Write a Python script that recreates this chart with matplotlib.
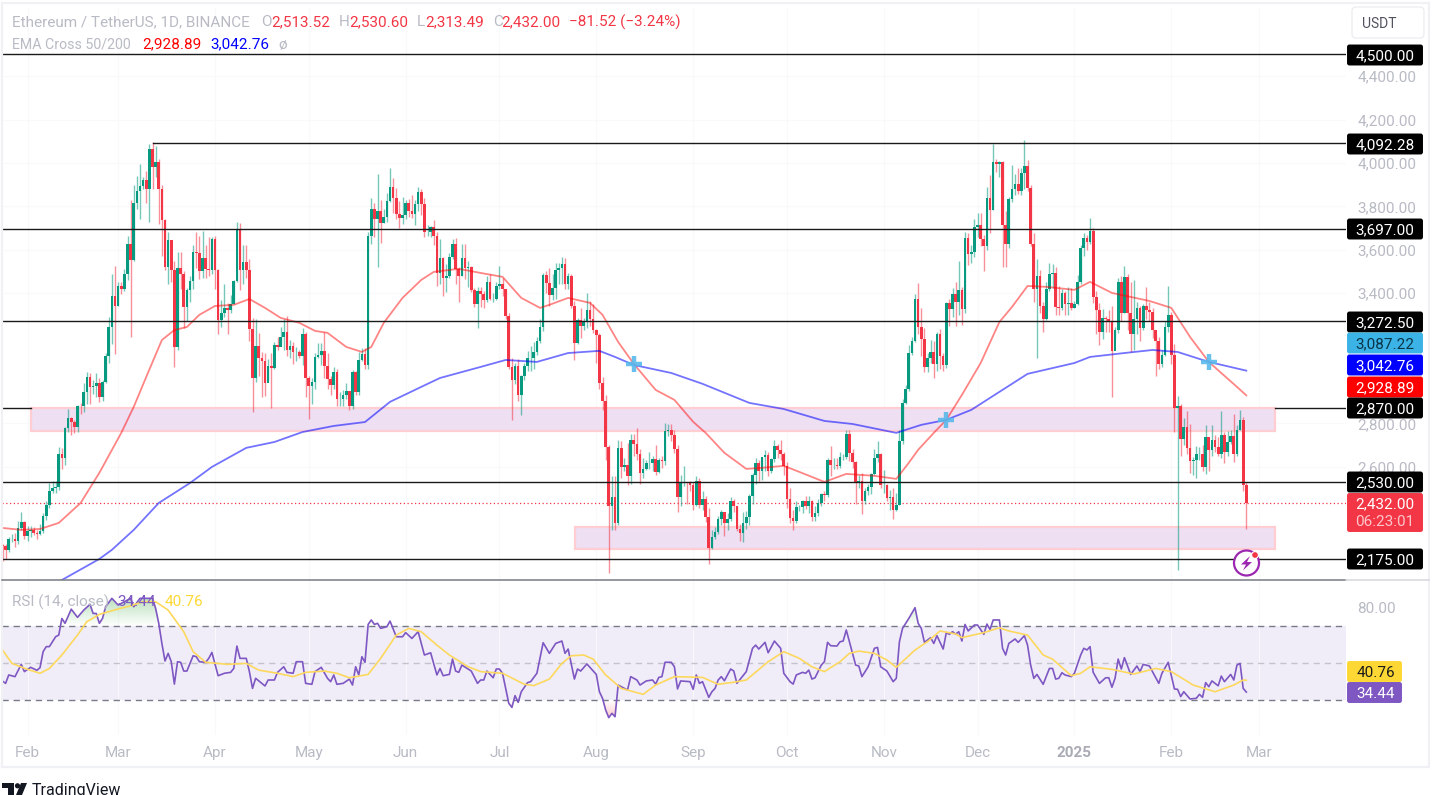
import matplotlib
matplotlib.use('Agg')
import matplotlib.pyplot as plt
from matplotlib.patches import Rectangle, FancyBboxPatch, Circle, Polygon
import numpy as np

plt.rcParams['font.family'] = ['Roboto', 'DejaVu Sans']

# ========================= candles, day 0 = 24 Jan 2024 =========================
first_open = 2240
closes = [
    # Jan
    2236, 2218, 2267, 2268, 2257, 2317, 2344, 2283,
    # Feb
    2304, 2309, 2296, 2290, 2302, 2373, 2422, 2487, 2501, 2508, 2660, 2641, 2777, 2825, 2805, 2784, 2881, 2879, 2946,
    3015, 2966, 2972, 2987, 2923, 2992, 3112, 3243, 3386, 3340,
    # Mar
    3435, 3420, 3490, 3625, 3553, 3816, 3869, 3893, 3920, 3880, 4066, 3980, 4006, 3882, 3738, 3520, 3645, 3505, 3150,
    3515, 3490, 3335, 3414, 3455, 3590, 3585, 3502, 3560, 3510, 3505, 3650,
    # Apr
    3505, 3275, 3310, 3330, 3320, 3350, 3455, 3695, 3505, 3545, 3505, 3235, 3010, 3155, 3100, 3085, 2985, 3065, 3055,
    3160, 3150, 3200, 3220, 3140, 3155, 3130, 3130, 3110, 3210, 3010,
    # May
    2970, 2990, 3105, 3115, 3135, 3065, 3005, 2975, 3035, 2910, 2910, 2930, 2950, 2880, 3035, 2945, 3090, 3120, 3070,
    3665, 3790, 3740, 3780, 3725, 3750, 3825, 3890, 3840, 3765, 3745, 3760,
    # Jun
    3815, 3780, 3765, 3810, 3865, 3810, 3680, 3680, 3705, 3665, 3495, 3560, 3470, 3480, 3565, 3625, 3510, 3480, 3560,
    3515, 3520, 3415, 3350, 3410, 3395, 3370, 3450, 3375, 3375, 3435,
    # Jul
    3440, 3420, 3295, 3060, 3000, 3065, 2930, 3020, 3065, 3100, 3100, 3130, 3180, 3245, 3485, 3445, 3390, 3425, 3505,
    3515, 3535, 3440, 3480, 3340, 3170, 3275, 3250, 3270, 3320, 3280, 3230,
    # Aug
    3205, 2985, 2905, 2690, 2420, 2460, 2340, 2685, 2600, 2610, 2555, 2725, 2705, 2660, 2570, 2590, 2615, 2615, 2635,
    2575, 2630, 2625, 2765, 2770, 2745, 2680, 2460, 2530, 2530, 2525, 2515,
    # Sep
    2425, 2535, 2425, 2450, 2370, 2225, 2275, 2300, 2360, 2390, 2340, 2360, 2440, 2420, 2315, 2295, 2340, 2370, 2465,
    2560, 2615, 2580, 2645, 2655, 2580, 2635, 2695, 2675, 2660, 2605,
    # Oct
    2450, 2365, 2350, 2415, 2415, 2440, 2420, 2440, 2370, 2385, 2435, 2475, 2470, 2630, 2610, 2610, 2605, 2645, 2645,
    2750, 2665, 2620, 2525, 2535, 2440, 2490, 2505, 2565, 2640, 2660, 2515,
    # Nov
    2515, 2455, 2460, 2400, 2425, 2720, 2895, 2960, 3125, 3180, 3375, 3245, 3190, 3060, 3100, 3130, 3075, 3210, 3110,
    3070, 3355, 3325, 3395, 3360, 3415, 3325, 3655, 3580, 3590, 3705,
    # Dec
    3715, 3650, 3615, 3840, 3785, 4005, 3995, 4005, 3715, 3625, 3835, 3880, 3905, 3870, 3955, 3985, 3885, 3625, 3420,
    3480, 3340, 3280, 3420, 3490, 3495, 3335, 3330, 3400, 3350, 3355, 3330,
    # Jan 2025
    3350, 3450, 3610, 3655, 3635, 3685, 3380, 3320, 3220, 3285, 3280, 3265, 3135, 3230, 3450, 3310, 3475, 3310, 3210,
    3280, 3330, 3240, 3340, 3320, 3315, 3230, 3180, 3075, 3115, 3245, 3300,
    # Feb 2025
    3115, 2870, 2880, 2730, 2785, 2685, 2625, 2630, 2660, 2660, 2600, 2735, 2675, 2725, 2690, 2660, 2745, 2670, 2715,
    2740, 2660, 2770, 2815, 2513.52, 2432,
]
highs = [
    2245, 2245, 2275, 2290, 2295, 2350, 2390, 2350,
    2325, 2325, 2320, 2310, 2335, 2385, 2440, 2525, 2535, 2535, 2690, 2685, 2785, 2865, 2830, 2815, 2885, 2895, 2985,
    3035, 3030, 3000, 3030, 3010, 3000, 3125, 3290, 3490, 3525,
    3450, 3450, 3510, 3665, 3830, 3900, 3940, 3995, 3935, 3965, 4085, 4095, 4080, 4020, 3900, 3740, 3680, 3615, 3550,
    3590, 3590, 3500, 3425, 3480, 3620, 3680, 3665, 3685, 3620, 3660, 3660,
    3665, 3510, 3370, 3440, 3355, 3390, 3460, 3730, 3725, 3620, 3620, 3555, 3285, 3280, 3215, 3130, 3125, 3095, 3125,
    3175, 3200, 3245, 3280, 3295, 3185, 3175, 3150, 3140, 3240, 3220,
    3020, 3010, 3125, 3170, 3170, 3220, 3125, 3020, 3060, 3050, 2945, 2955, 2985, 2950, 3045, 3040, 3130, 3145, 3145,
    3680, 3840, 3815, 3950, 3830, 3790, 3860, 3975, 3930, 3885, 3825, 3845,
    3830, 3835, 3850, 3830, 3890, 3880, 3840, 3715, 3710, 3735, 3680, 3650, 3565, 3535, 3585, 3650, 3655, 3520, 3625,
    3625, 3550, 3525, 3425, 3430, 3430, 3410, 3480, 3490, 3400, 3450,
    3525, 3470, 3420, 3310, 3100, 3080, 3095, 3025, 3080, 3135, 3155, 3175, 3200, 3280, 3495, 3500, 3515, 3490, 3540,
    3540, 3565, 3560, 3495, 3490, 3365, 3285, 3330, 3285, 3400, 3365, 3350,
    3235, 3215, 3015, 2930, 2700, 2555, 2555, 2725, 2720, 2640, 2710, 2750, 2750, 2780, 2680, 2640, 2630, 2670, 2650,
    2700, 2640, 2650, 2800, 2795, 2795, 2770, 2700, 2560, 2605, 2530, 2535,
    2530, 2555, 2550, 2490, 2465, 2410, 2310, 2320, 2375, 2400, 2365, 2385, 2460, 2450, 2420, 2335, 2390, 2395, 2475,
    2570, 2640, 2630, 2645, 2675, 2670, 2640, 2725, 2705, 2725, 2670,
    2620, 2500, 2400, 2440, 2425, 2445, 2465, 2465, 2445, 2420, 2450, 2480, 2490, 2640, 2695, 2640, 2640, 2670, 2660,
    2770, 2770, 2680, 2625, 2560, 2570, 2500, 2520, 2570, 2680, 2720, 2665,
    2585, 2520, 2495, 2500, 2480, 2770, 2910, 2975, 3160, 3200, 3395, 3445, 3330, 3240, 3125, 3185, 3180, 3220, 3235,
    3125, 3360, 3375, 3425, 3450, 3550, 3430, 3680, 3675, 3620, 3740,
    3770, 3770, 3670, 3890, 3945, 4085, 4020, 4010, 4010, 3780, 3845, 3990, 3950, 3975, 3975, 4105, 4015, 3900, 3675,
    3555, 3505, 3360, 3450, 3540, 3535, 3520, 3435, 3420, 3410, 3430, 3425,
    3365, 3485, 3620, 3675, 3670, 3745, 3700, 3410, 3355, 3325, 3295, 3320, 3340, 3245, 3470, 3480, 3525, 3490, 3450,
    3460, 3360, 3340, 3350, 3430, 3360, 3330, 3210, 3200, 3140, 3270, 3435,
    3315, 3165, 2925, 2890, 2825, 2855, 2795, 2645, 2695, 2690, 2700, 2790, 2700, 2790, 2745, 2735, 2855, 2760, 2765,
    2770, 2845, 2790, 2860, 2830, 2530.60,
]
lows = [
    2165, 2175, 2205, 2255, 2230, 2245, 2310, 2265,
    2260, 2275, 2285, 2265, 2285, 2295, 2355, 2410, 2480, 2480, 2495, 2590, 2610, 2760, 2745, 2755, 2760, 2845, 2850,
    2890, 2890, 2935, 2920, 2900, 2905, 2985, 3080, 3165, 3120,
    3340, 3395, 3410, 3460, 3200, 3550, 3790, 3740, 3880, 3815, 3730, 3880, 3935, 3720, 3570, 3505, 3440, 3450, 3060,
    3140, 3420, 3240, 3270, 3360, 3420, 3515, 3465, 3470, 3470, 3480, 3490,
    3420, 3210, 3245, 3290, 3210, 3310, 3350, 3450, 3415, 3440, 3470, 3180, 2850, 2990, 3020, 2920, 2925, 3000, 2870,
    3050, 3140, 3160, 3140, 3110, 3100, 3075, 3085, 3100, 3070, 2920,
    2820, 2890, 2960, 3100, 3070, 3010, 2960, 2930, 2960, 2880, 2880, 2880, 2910, 2860, 2865, 2930, 2930, 3085, 3050,
    3050, 3625, 3660, 3520, 3630, 3725, 3730, 3820, 3770, 3740, 3700, 3720,
    3740, 3750, 3745, 3715, 3780, 3760, 3660, 3665, 3660, 3620, 3435, 3440, 3385, 3405, 3470, 3555, 3440, 3360, 3480,
    3465, 3430, 3405, 3335, 3240, 3335, 3330, 3360, 3370, 3360, 3370,
    3420, 3385, 3280, 3050, 2815, 2980, 2905, 2840, 3000, 3040, 3040, 3050, 3115, 3170, 3225, 3400, 3340, 3370, 3375,
    3440, 3440, 3420, 3420, 3330, 3090, 3165, 3195, 3230, 3240, 3250, 3215,
    3080, 2960, 2860, 2630, 2110, 2310, 2310, 2330, 2550, 2580, 2515, 2520, 2650, 2630, 2520, 2550, 2585, 2590, 2580,
    2560, 2570, 2595, 2610, 2740, 2720, 2665, 2390, 2420, 2510, 2430, 2490,
    2400, 2420, 2410, 2400, 2345, 2150, 2220, 2265, 2290, 2330, 2280, 2310, 2350, 2390, 2305, 2260, 2255, 2315, 2330,
    2430, 2520, 2535, 2540, 2580, 2555, 2570, 2620, 2640, 2630, 2560,
    2410, 2340, 2310, 2340, 2395, 2385, 2405, 2385, 2350, 2350, 2375, 2420, 2440, 2460, 2555, 2590, 2590, 2595, 2630,
    2635, 2625, 2595, 2430, 2500, 2380, 2430, 2470, 2475, 2560, 2620, 2500,
    2480, 2440, 2400, 2360, 2395, 2425, 2705, 2890, 2950, 3115, 3175, 3210, 3110, 3035, 3035, 3080, 3010, 3040, 3050,
    3040, 3055, 3250, 3290, 3250, 3300, 3255, 3310, 3530, 3540, 3565,
    3660, 3615, 3500, 3600, 3675, 3785, 3960, 3935, 3520, 3520, 3610, 3820, 3850, 3855, 3850, 3880, 3870, 3615, 3360,
    3100, 3310, 3220, 3275, 3410, 3425, 3300, 3300, 3320, 3300, 3300, 3320,
    3330, 3345, 3440, 3570, 3600, 3625, 3355, 3210, 3160, 3190, 3220, 3220, 2920, 3190, 3215, 3270, 3310, 3230, 3130,
    3140, 3210, 3180, 3230, 3280, 3270, 3195, 3020, 3050, 3060, 3110, 3220,
    3075, 2760, 2125, 2650, 2700, 2660, 2570, 2560, 2550, 2630, 2580, 2565, 2580, 2650, 2670, 2650, 2640, 2615, 2650,
    2705, 2620, 2650, 2770, 2490, 2313.49,
]

# ========================= moving averages ===================
ema50_days = [0, 6, 12, 18, 25, 31, 38, 42, 46, 51, 55, 59, 63, 68, 74, 79, 84, 89, 95, 100, 104, 110, 115, 118, 122,
              128, 134, 138, 146, 153, 160, 166, 172, 175, 181, 188, 192, 197, 202, 209, 215, 221, 225, 231, 238, 243,
              250, 255, 263, 270, 279, 286, 290, 293, 298, 302, 307, 313, 319, 323, 328, 334, 343, 348, 355, 367, 374,
              380, 386, 395, 398]
ema50 = [2318, 2309, 2313, 2341, 2433, 2572, 2756, 2876, 3014, 3184, 3230, 3244, 3300, 3341, 3346, 3373, 3332, 3286,
         3263, 3226, 3217, 3152, 3129, 3152, 3263, 3378, 3461, 3498, 3512, 3493, 3475, 3378, 3332, 3346, 3378, 3355,
         3300, 3175, 3074, 2954, 2908, 2807, 2756, 2664, 2590, 2595, 2604, 2576, 2530, 2567, 2558, 2544, 2618, 2678,
         2756, 2816, 2931, 3078, 3267, 3336, 3433, 3429, 3415, 3452, 3401, 3364, 3332, 3198, 3083, 2968, 2928.89]
ema200_days = [19, 31, 35, 42, 50, 60, 67, 78, 87, 96, 106, 116, 124, 134, 140, 153, 161, 171, 181, 191, 196, 202, 214,
               224, 239, 250, 263, 272, 286, 294, 302, 310, 319, 328, 343, 348, 359, 368, 376, 386, 398]
ema200 = [2078, 2175, 2217, 2309, 2433, 2525, 2599, 2687, 2714, 2760, 2788, 2806, 2899, 2968, 3009, 3060, 3092, 3083,
          3124, 3134, 3106, 3069, 3032, 2982, 2894, 2866, 2811, 2797, 2756, 2793, 2816, 2862, 2945, 3028, 3078, 3106,
          3124, 3138, 3129, 3083, 3042.76]
cross_days = [202, 302, 386]
cross_prices = [3074, 2816, 3083]

# ========================= RSI pane =============================================
rsi_days = [0, 1, 2, 4, 6, 7, 9, 11, 12, 13, 14, 15, 17, 18, 19, 20, 22, 24, 26, 28, 29, 30, 31, 32, 33, 35, 37, 39, 41,
            42, 44, 46, 48, 49, 50, 51, 52, 53, 54, 55, 56, 57, 58, 59, 61, 62, 63, 65, 66, 67, 69, 71, 73, 74, 75, 76,
            78, 79, 80, 81, 84, 85, 87, 88, 90, 91, 93, 94, 96, 97, 99, 100, 102, 104, 105, 106, 107, 109, 111, 112,
            113, 114, 115, 116, 117, 118, 119, 120, 121, 123, 124, 126, 128, 129, 131, 133, 135, 137, 139, 140, 141,
            143, 144, 145, 146, 147, 149, 150, 152, 153, 154, 155, 157, 158, 159, 160, 162, 163, 164, 165, 166, 168,
            169, 171, 173, 175, 177, 179, 180, 181, 183, 184, 185, 187, 190, 191, 192, 193, 194, 195, 196, 197, 200,
            201, 203, 204, 206, 208, 209, 210, 211, 212, 214, 215, 216, 217, 220, 221, 222, 223, 224, 226, 227, 228,
            229, 230, 231, 233, 234, 235, 238, 240, 241, 242, 244, 245, 247, 249, 250, 252, 253, 254, 256, 257, 258,
            259, 260, 262, 263, 264, 265, 267, 268, 269, 270, 273, 274, 275, 277, 279, 280, 281, 283, 285, 286, 287,
            288, 290, 292, 293, 294, 295, 297, 298, 299, 301, 302, 303, 304, 305, 306, 307, 308, 309, 311, 312, 314,
            315, 316, 317, 319, 320, 321, 322, 324, 325, 327, 328, 329, 330, 331, 333, 335, 336, 337, 338, 339, 340,
            342, 343, 345, 346, 347, 348, 349, 351, 353, 354, 355, 356, 357, 358, 359, 361, 363, 364, 365, 367, 370,
            371, 373, 375, 376, 377, 378, 380, 382, 383, 384, 385, 386, 387, 389, 390, 391, 393, 394, 395, 396, 397,
            398]
rsi_vals = [40.3, 39.1, 43.6, 42.7, 49.3, 45.4, 47.7, 46.1, 47.5, 56.1, 58.8, 58.8, 64.1, 65.0, 73.9, 71.3, 78.9, 74.5,
            78.4, 81.5, 76.6, 76.6, 71.3, 73.9, 80.2, 84.7, 81.1, 82.9, 84.7, 80.2, 84.7, 84.7, 84.7, 79.3, 71.3, 60.5,
            51.1, 55.2, 50.7, 38.7, 50.7, 50.4, 45.7, 45.7, 53.9, 53.4, 50.7, 50.4, 52.5, 55.7, 43.2, 44.5, 45.0, 47.1,
            59.1, 52.5, 52.5, 45.4, 36.4, 41.8, 37.7, 40.9, 40.9, 45.0, 48.0, 45.0, 44.5, 50.7, 50.7, 39.1, 38.6, 45.4,
            47.7, 41.8, 40.0, 43.6, 38.6, 39.1, 41.4, 38.2, 48.0, 43.6, 53.4, 50.4, 70.7, 73.1, 70.7, 71.3, 68.6, 69.5,
            72.5, 64.1, 64.1, 66.3, 63.2, 66.8, 54.3, 55.5, 43.6, 47.1, 43.2, 43.9, 52.1, 45.7, 45.0, 48.9, 46.8, 45.7,
            39.1, 40.9, 40.9, 45.7, 42.1, 46.8, 46.8, 44.5, 28.4, 26.2, 32.5, 28.9, 34.6, 39.5, 40.0, 44.5, 60.9, 55.2,
            60.5, 61.8, 55.2, 57.5, 41.4, 46.8, 45.7, 49.5, 43.9, 34.6, 31.1, 24.8, 20.7, 23.0, 21.2, 38.2, 35.5, 42.7,
            40.9, 38.2, 40.4, 40.9, 38.7, 42.3, 42.7, 50.4, 50.4, 48.0, 36.1, 40.4, 40.0, 35.9, 43.6, 39.1, 40.0, 31.6,
            34.6, 36.4, 40.9, 42.7, 40.5, 46.8, 45.7, 39.1, 45.4, 57.9, 59.6, 57.5, 61.1, 55.5, 61.8, 57.9, 44.5, 40.0,
            38.7, 43.6, 45.0, 44.5, 46.2, 41.4, 42.1, 48.9, 50.7, 61.1, 59.3, 59.1, 61.4, 61.8, 67.7, 48.9, 48.4, 42.7,
            48.0, 57.9, 58.4, 48.0, 45.7, 40.0, 41.8, 61.4, 68.6, 73.9, 79.7, 71.3, 68.6, 61.1, 63.6, 60.5, 64.7, 57.5,
            66.3, 65.4, 66.8, 65.5, 66.8, 61.8, 70.7, 67.2, 70.4, 70.4, 65.4, 70.9, 68.0, 73.1, 73.1, 57.9, 54.3, 60.5,
            62.9, 61.1, 64.7, 59.6, 48.9, 41.8, 43.9, 38.6, 47.1, 47.1, 41.4, 41.8, 44.8, 43.6, 42.7, 44.5, 54.3, 57.9,
            57.0, 58.8, 45.0, 39.1, 42.1, 42.1, 37.0, 41.8, 52.1, 46.8, 52.9, 43.9, 48.4, 45.4, 49.3, 48.4, 39.1, 44.5,
            50.4, 36.1, 35.9, 32.0, 34.6, 30.7, 31.1, 33.2, 31.6, 39.5, 37.3, 40.4, 37.8, 43.0, 40.0, 43.9, 40.9, 48.9,
            49.8, 36.4, 34.44]
rsi_ma_days = [0, 3, 8, 12, 15, 19, 24, 27, 31, 37, 41, 45, 49, 53, 58, 61, 65, 72, 78, 82, 88, 93, 97, 103, 107, 111,
               117, 121, 126, 130, 134, 139, 143, 149, 153, 160, 167, 170, 175, 179, 182, 186, 189, 193, 198, 205, 209,
               215, 224, 229, 234, 238, 245, 250, 255, 259, 263, 268, 271, 274, 279, 283, 286, 292, 296, 300, 305, 307,
               314, 319, 322, 328, 333, 336, 342, 345, 348, 355, 362, 369, 374, 381, 388, 394, 397, 398]
rsi_ma = [57.0, 49.8, 46.6, 44.5, 47.1, 54.3, 65.0, 72.2, 76.1, 79.0, 80.7, 82.9, 82.9, 78.4, 66.8, 56.1, 50.4, 49.3,
          49.8, 46.2, 44.5, 42.7, 45.0, 45.7, 44.5, 42.1, 43.9, 52.5, 65.0, 68.6, 66.8, 59.6, 54.3, 48.0, 45.4, 44.5,
          38.6, 37.9, 41.4, 49.8, 53.9, 54.3, 52.1, 43.6, 36.4, 33.2, 38.2, 42.7, 42.3, 38.6, 39.7, 40.9, 50.7, 56.1,
          52.5, 48.0, 45.4, 50.7, 55.2, 56.4, 55.2, 51.6, 47.7, 57.0, 61.5, 67.2, 65.6, 63.6, 66.3, 68.9, 67.2, 65.0,
          54.3, 52.1, 43.2, 44.5, 48.0, 46.6, 44.1, 47.1, 45.4, 38.2, 34.6, 38.2, 40.9, 40.76]

# ========================= levels, zones and labels ============================
level_prices = [4500, 3697, 3272.5, 2530, 2175]
peak_level = 4092.28
zone_level = 2870
zones = [(9.1, 2869, 2763), (183.2, 2323, 2221)]
zone_end = 407.2
last_close = 2432

# the other round prices sit behind the level tags in the original
price_ticks = [2600, 2800, 3400, 3600, 3800, 4000, 4200, 4400]
month_days = [8, 37, 68, 98, 129, 159, 190, 221, 251, 282, 312, 343, 374, 402]
month_names = ['Feb', 'Mar', 'Apr', 'May', 'Jun', 'Jul', 'Aug', 'Sep', 'Oct', 'Nov', 'Dec', '2025', 'Feb', 'Mar']

# value text, pixel row of the tag (close tags get pushed apart), box and text colour
price_tags = [('4,500.00', 55, '#000000', '#ffffff'), ('4,092.28', 144, '#000000', '#ffffff'),
              ('3,697.00', 229, '#000000', '#ffffff'), ('3,272.50', 322, '#000000', '#ffffff'),
              ('3,087.22', 343, '#3bb3e6', '#0b3447'), ('3,042.76', 365, '#0000ff', '#ffffff'),
              ('2,928.89', 387, '#ff0000', '#ffffff'), ('2,870.00', 408, '#000000', '#ffffff'),
              ('2,530.00', 482, '#000000', '#ffffff'), ('2,175.00', 559, '#000000', '#ffffff')]

UP = '#089981'
DOWN = '#f23645'
GREY = '#b8bbc4'
W, H = 1436, 795

closes = np.array(closes, dtype=float)
highs = np.array(highs, dtype=float)
lows = np.array(lows, dtype=float)
opens = np.r_[first_open, closes[:-1]]
days = np.arange(len(closes))
colors = [UP if c >= o else DOWN for o, c in zip(opens, closes)]

fig = plt.figure(figsize=(W / 100, H / 100), dpi=100, facecolor='white')


def pane(left, top, right, bottom):
    return fig.add_axes([left / W, 1 - bottom / H, (right - left) / W, (bottom - top) / H])


ax = pane(2, 8, 1346, 580)
ax2 = pane(2, 581, 1346, 735)
xlim = (-0.16, 429.9)

# ===== price pane =====
for start, top, bot in zones:
    ax.add_patch(Rectangle((start, bot), zone_end - start, top - bot, facecolor='#eedff3',
                           edgecolor='#ffcdd2', lw=1.6, zorder=1))
ax.vlines(days, lows, highs, colors=colors, lw=1.0, alpha=0.55, zorder=2)
ax.bar(days, np.abs(closes - opens), bottom=np.minimum(opens, closes), width=0.85, color=colors, lw=0, zorder=2.5)
ax.plot(ema50_days, ema50, color='#ff0000', alpha=0.48, lw=1.3, zorder=3)
ax.plot(ema200_days, ema200, color='#0000ff', alpha=0.55, lw=1.3, zorder=3)
ax.plot(cross_days, cross_prices, ls='none', marker='+', ms=11, mew=3.2, color='#59b9ea', alpha=0.9, zorder=3.5)
for p in level_prices:
    ax.plot(xlim, [p, p], color='#1a1a1a', lw=1.0, zorder=4)
ax.plot([48, xlim[1]], [peak_level, peak_level], color='#1a1a1a', lw=1.0, zorder=4)
ax.plot([xlim[0], zones[0][0]], [zone_level, zone_level], color='#1a1a1a', lw=1.0, zorder=4)
ax.plot([zone_end, xlim[1]], [zone_level, zone_level], color='#1a1a1a', lw=1.0, zorder=4)
ax.plot(xlim, [last_close, last_close], color=DOWN, lw=0.9, ls=(0, (1, 2)), zorder=1.5)

ax.set_xlim(xlim)
ax.set_ylim(2078, 4714)
ax.yaxis.tick_right()
ax.set_yticks(price_ticks)
ax.set_yticklabels([f'{t:,.2f}' for t in price_ticks])
ax.set_xticks(month_days)
ax.tick_params(axis='both', length=0, labelbottom=False, pad=8, labelsize=11, labelcolor=GREY)
ax.grid(True, color='#f9f9fb', lw=0.8)
ax.set_axisbelow(True)
for s in ax.spines.values():
    s.set_visible(False)

# ===== RSI pane =====
ax2.axhspan(30, 70, color='#f0edf9', lw=0, zorder=0.5)
for level, col in [(70, '#787b86'), (50, '#c3c4cb'), (30, '#787b86')]:
    ax2.plot(xlim, [level, level], color=col, lw=1, ls=(0, (4.5, 3.5)), zorder=1)

dense_x = np.linspace(0, 398, 1600)
dense_rsi = np.interp(dense_x, rsi_days, rsi_vals)
upper = ax2.fill_between(dense_x, 70, np.maximum(dense_rsi, 70), color='none', lw=0)
lower = ax2.fill_between(dense_x, np.minimum(dense_rsi, 30), 30, color='none', lw=0)
grad_up = np.zeros((64, 1, 4))
grad_up[..., :3] = matplotlib.colors.to_rgb('#4caf50')
grad_up[..., 3] = np.linspace(0.38, 0, 64)[:, None]
im1 = ax2.imshow(grad_up, extent=[0, 398, 70, 85], aspect='auto', origin='upper', zorder=1.2)
im1.set_clip_path(upper.get_paths()[0], transform=ax2.transData)
grad_dn = np.zeros((64, 1, 4))
grad_dn[..., :3] = matplotlib.colors.to_rgb('#f23645')
grad_dn[..., 3] = np.linspace(0, 0.3, 64)[:, None]
im2 = ax2.imshow(grad_dn, extent=[0, 398, 20, 30], aspect='auto', origin='upper', zorder=1.2)
im2.set_clip_path(lower.get_paths()[0], transform=ax2.transData)

ax2.plot(rsi_days, rsi_vals, color='#7e57c2', lw=1.2, zorder=3)
ax2.plot(rsi_ma_days, rsi_ma, color='#fdd85d', lw=1.2, zorder=3)
ax2.set_xlim(xlim)
ax2.set_ylim(11.4, 94)
ax2.yaxis.tick_right()
ax2.set_yticks([80])
ax2.set_yticklabels(['80.00'])
ax2.set_xticks(month_days)
ax2.set_xticklabels(month_names)
ax2.tick_params(axis='both', length=0, labelsize=11, labelcolor=GREY)
ax2.tick_params(axis='x', pad=8)
ax2.tick_params(axis='y', pad=8)
ax2.get_xticklabels()[11].set_fontweight('bold')
ax2.get_xticklabels()[11].set_color('#a9abb5')
ax2.grid(True, axis='x', color='#f9f9fb', lw=0.8)
ax2.set_axisbelow(True)
for s in ax2.spines.values():
    s.set_visible(False)

# ===== overlay in screen pixels for the TradingView furniture =====
ov = fig.add_axes([0, 0, 1, 1], zorder=10)
ov.set_xlim(0, W)
ov.set_ylim(H, 0)
ov.axis('off')
ov.patch.set_alpha(0)

ov.add_patch(Rectangle((2, 3), 1427, 764, fill=False, edgecolor='#f0f1f5', lw=1.6))
ov.plot([2, 1346], [580, 580], color='#777a82', lw=1.1)
ov.plot([1346, 1429], [580, 580], color='#d6d7dc', lw=1.1)


def tag(x0, x1, yc, h, text, box, fg, tx=None, ha='center'):
    ov.add_patch(FancyBboxPatch((x0 + 1, yc - h / 2 + 1), x1 - x0 - 2, h - 2, boxstyle='round,pad=0,rounding_size=1.5',
                                mutation_aspect=1, facecolor=box, edgecolor=box, lw=1.4))
    ov.text((x0 + x1) / 2 if tx is None else tx, yc, text, color=fg, fontsize=11, ha=ha, va='center_baseline')


for text, yc, box, fg in price_tags:
    tag(1347, 1423, yc, 21, text, box, fg)
ov.add_patch(FancyBboxPatch((1348, 494), 74, 37, boxstyle='round,pad=0,rounding_size=1.5',
                            facecolor=DOWN, edgecolor=DOWN, lw=1.4))
ov.text(1385, 503, '2,432.00', color='white', fontsize=11, ha='center', va='center_baseline')
ov.text(1385, 521, '06:23:01', color='#fdc5ca', fontsize=11, ha='center', va='center_baseline')
tag(1347, 1402, 671.5, 21, '40.76', '#fdd835', '#1a1a1a', tx=1395, ha='right')
tag(1347, 1402, 692.5, 21, '34.44', '#7e57c2', 'white', tx=1395, ha='right')

ov.add_patch(FancyBboxPatch((1352, 7), 72, 31, boxstyle='round,pad=0,rounding_size=4',
                            facecolor='white', edgecolor='#eceef2', lw=1))
ov.text(1379, 22, 'USDT', color='#50535e', fontsize=10, ha='center', va='center_baseline')

# header rows
for x, text, col in [(12, 'Ethereum / TetherUS, 1D, BINANCE', GREY), (261, 'O', GREY), (271, '2,513.52', DOWN),
                     (339, 'H', GREY), (349, '2,530.60', DOWN), (417, 'L', GREY), (425, '2,313.49', DOWN),
                     (493, 'C', GREY), (501, '2,432.00', DOWN), (569, '\u221281.52 (\u22123.24%)', DOWN)]:
    ov.text(x, 21, text, color=col, fontsize=11, va='center_baseline')
ov.text(12, 43, 'EMA Cross 50/200', color=GREY, fontsize=10.2, va='center_baseline')
for x, text, col in [(142, '2,928.89', '#ff0000'), (210, '3,042.76', '#0000ff'), (278, '\u00f8', GREY)]:
    ov.text(x, 43, text, color=col, fontsize=11, va='center_baseline')
ov.text(12, 601, 'RSI (14, close)', color=GREY, fontsize=11, va='center_baseline')
ov.text(117, 601, '34.44', color='#7e57c2', fontsize=11, va='center_baseline')
ov.text(165, 601, '40.76', color='#fdd835', fontsize=11, va='center_baseline')

# lightning badge
ov.add_patch(Circle((1246.5, 563), 12.5, facecolor='white', edgecolor='#9c27b0', lw=1.6))
ov.add_patch(Polygon([(1250, 556), (1241, 564.5), (1246, 564.5), (1243, 570.5), (1252, 562), (1247, 562)],
                     closed=True, facecolor='#9c27b0', edgecolor='none'))
ov.add_patch(Circle((1255, 555), 3.4, facecolor=DOWN, edgecolor='white', lw=0.8))

# TradingView mark, cut by the image edge like the original
ov.add_patch(Polygon([(2, 783), (14, 783), (14, 795), (8, 795), (8, 788), (2, 788)], closed=True,
                     facecolor='#131722', edgecolor='none'))
ov.add_patch(Circle((17.5, 785.8), 2.6, facecolor='#131722', edgecolor='none'))
ov.add_patch(Polygon([(21, 783), (27, 783), (22, 795), (16, 795)], closed=True, facecolor='#131722', edgecolor='none'))
ov.text(32, 789, 'TradingView', color='#131722', fontsize=11.5, va='center_baseline')

fig.savefig('out.png', dpi=100, facecolor='white')
